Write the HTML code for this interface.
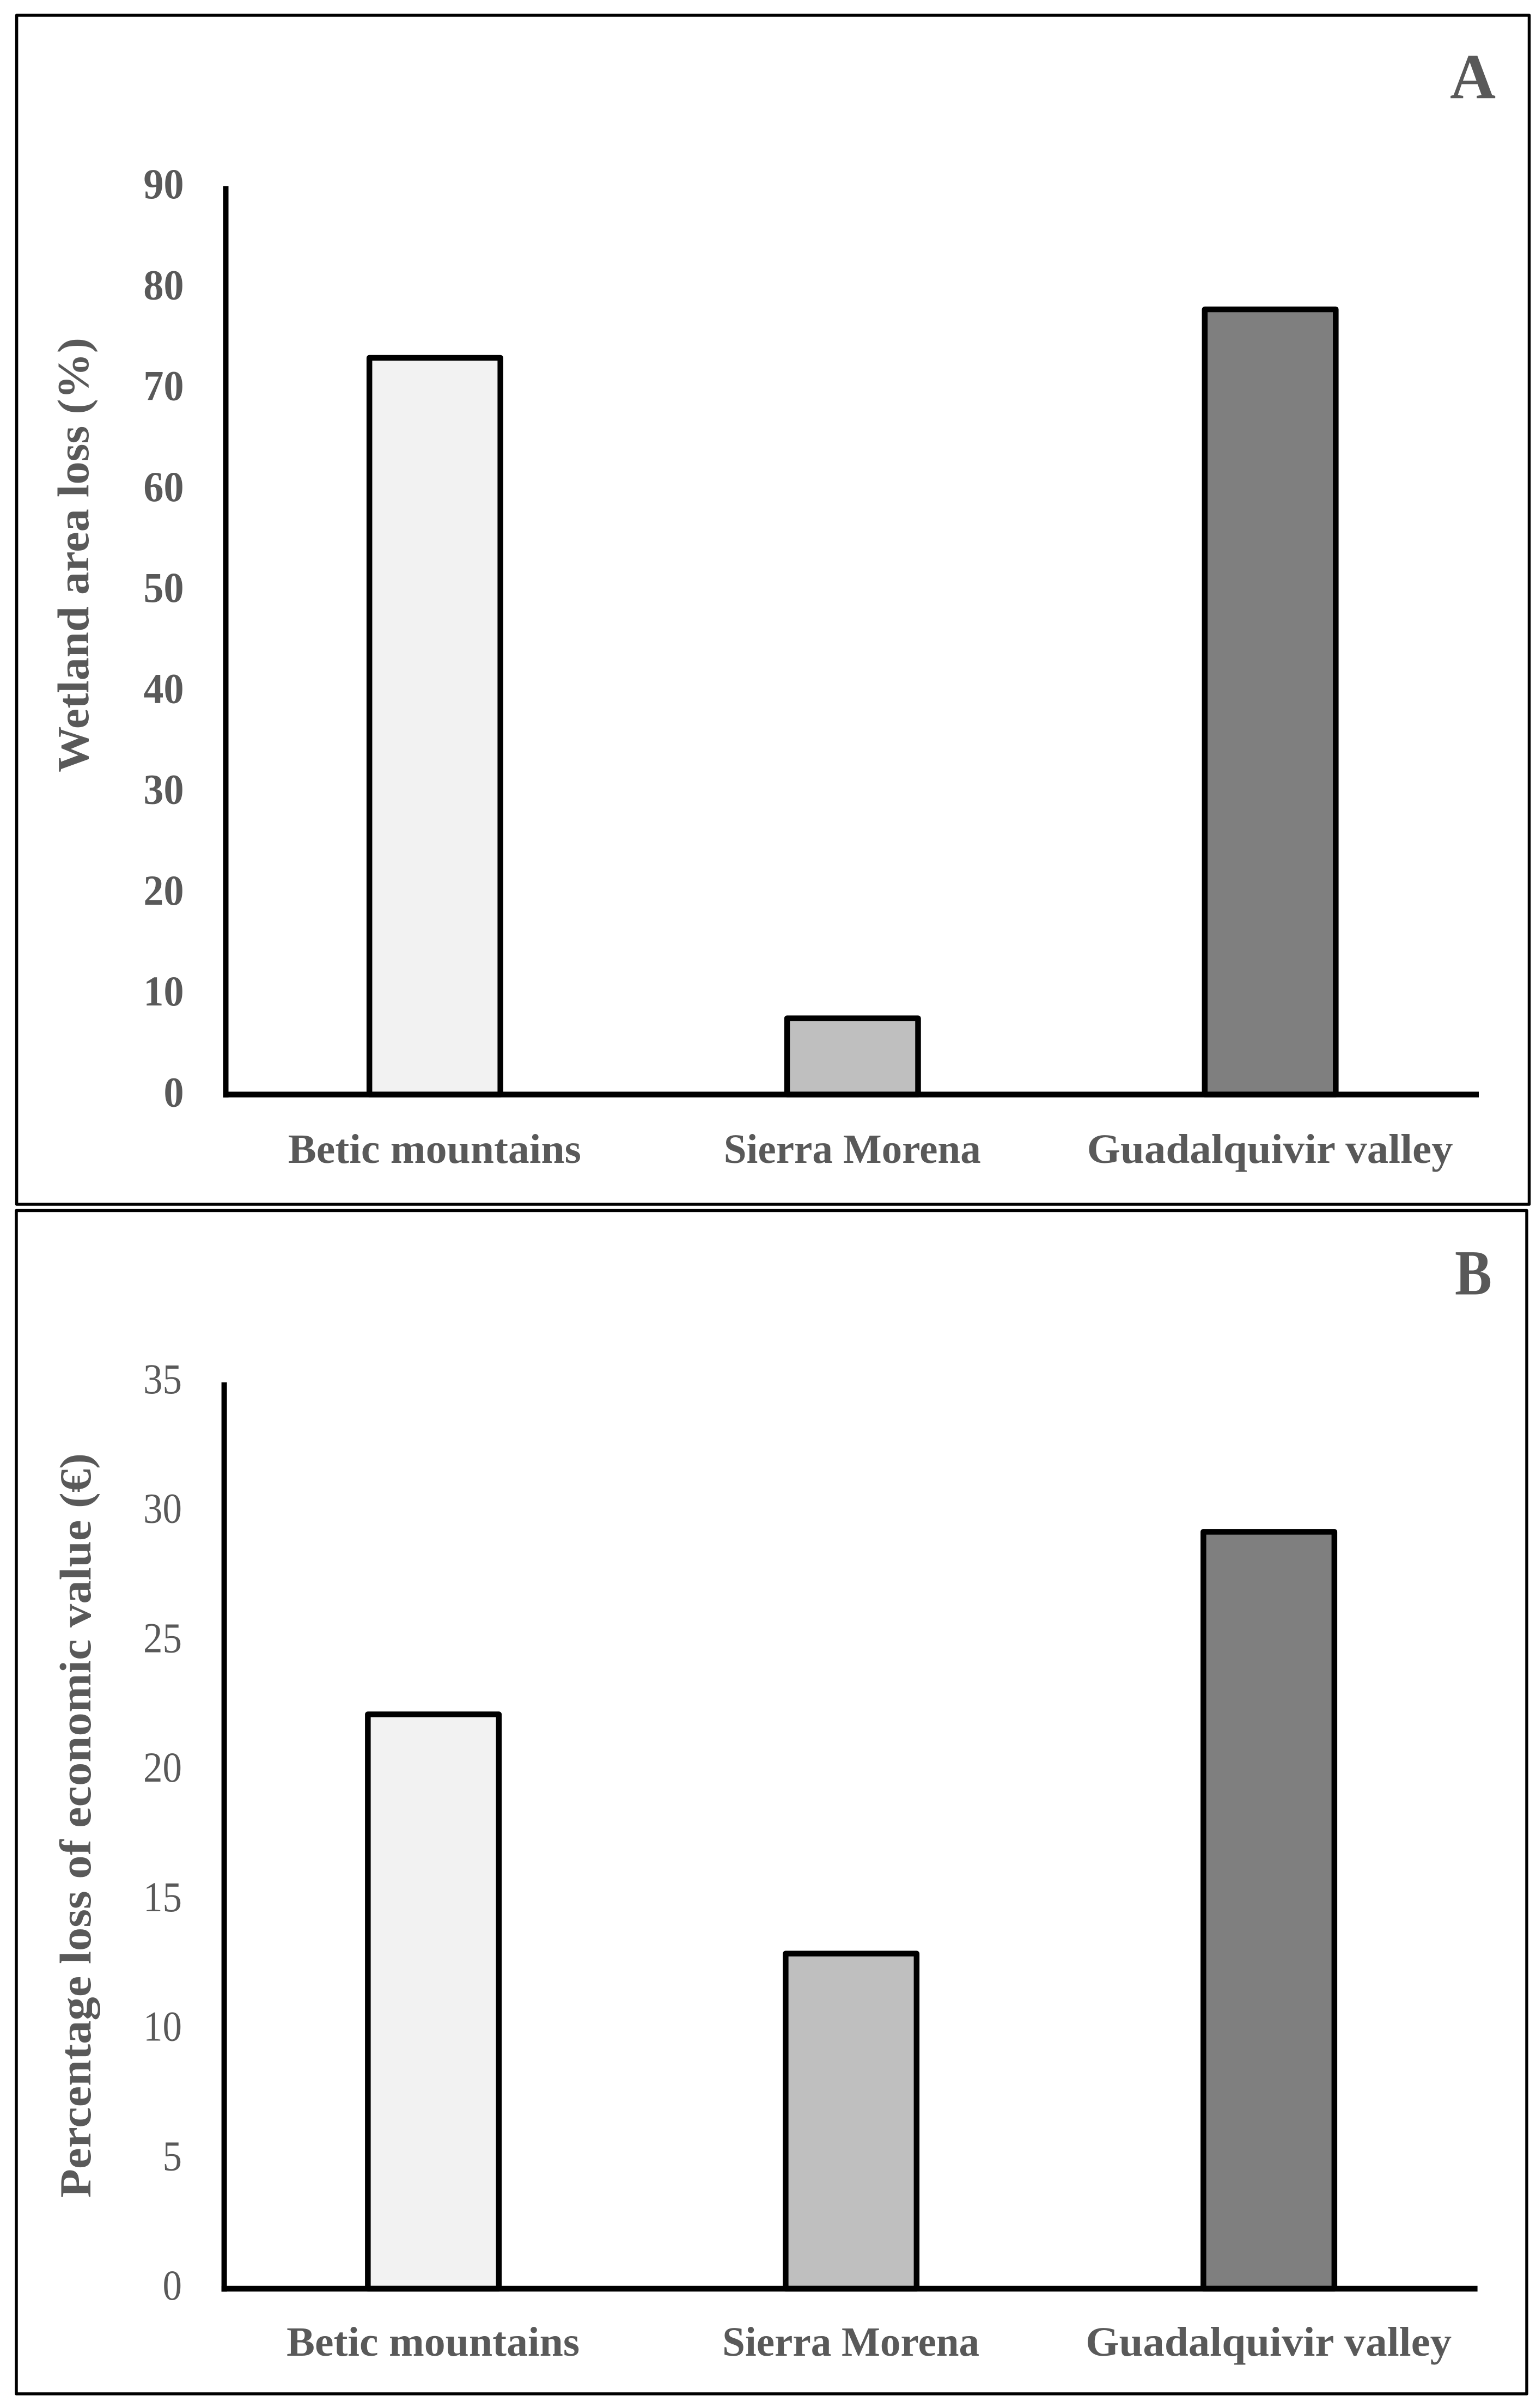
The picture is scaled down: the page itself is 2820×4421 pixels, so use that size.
<!DOCTYPE html>
<html lang="en">
<head>
<meta charset="utf-8">
<title>Wetland area loss and economic value loss by region</title>
<style>
html,body{margin:0;padding:0;background:#fff;}
svg{display:block;}
text{font-family:"Liberation Serif",serif;fill:#595959;}
</style>
</head>
<body>
<svg id="figure" xmlns="http://www.w3.org/2000/svg" width="2820" height="4421" viewBox="0 0 2820 4421"></svg>
<script>
// Shared categories
const categories = ['Betic mountains', 'Sierra Morena', 'Guadalquivir valley'];
// Panel A data
const wetlandLoss = [73.0, 7.55, 77.8];
const wetlandTicks = [0, 10, 20, 30, 40, 50, 60, 70, 80, 90];
// Panel B data
const economicLoss = [22.18, 12.94, 29.23];
const economicTicks = [0, 5, 10, 15, 20, 25, 30, 35];

const NS = 'http://www.w3.org/2000/svg';
const svg = document.getElementById('figure');
const barFills = ['#f2f2f2', '#bfbfbf', '#7f7f7f'];
const labelWidths = [538, 472, 672];

function makeRect(parent, name, x, y, w, h, fill, stroke, sw) {
  const el = document.createElementNS(NS, 'rect');
  
  
  el.setAttribute('x', x);
  el.setAttribute('y', y);
  el.setAttribute('width', w);
  el.setAttribute('height', h);
  el.setAttribute('fill', fill);
  if (stroke) {
    el.setAttribute('stroke', stroke);
    el.setAttribute('stroke-width', sw);
    el.setAttribute('stroke-linejoin', 'round');
  }
  parent.appendChild(el);
  return el;
}

function makeLine(parent, name, x1, y1, x2, y2, sw) {
  const el = document.createElementNS(NS, 'line');
  
  
  el.setAttribute('x1', x1);
  el.setAttribute('y1', y1);
  el.setAttribute('x2', x2);
  el.setAttribute('y2', y2);
  el.setAttribute('stroke', '#000');
  el.setAttribute('stroke-width', sw);
  parent.appendChild(el);
  return el;
}

function makeText(parent, name, content, size, weight, anchor, transform, length) {
  const el = document.createElementNS(NS, 'text');
  
  
  el.setAttribute('font-size', size);
  el.setAttribute('font-weight', weight);
  el.setAttribute('text-anchor', anchor);
  el.setAttribute('transform', transform);
  if (length) {
    el.setAttribute('textLength', length);
    el.setAttribute('lengthAdjust', 'spacingAndGlyphs');
  }
  el.textContent = content;
  parent.appendChild(el);
  return el;
}

function drawPanel(cfg) {
  const g = document.createElementNS(NS, 'g');
  
  
  svg.appendChild(g);

  makeRect(g, cfg.name + '-border', cfg.box[0], cfg.box[1], cfg.box[2] - cfg.box[0], cfg.box[3] - cfg.box[1], 'none', '#000', 5.5);

  const maxTick = cfg.ticks[cfg.ticks.length - 1];
  const yScale = v => cfg.y0 - (v / maxTick) * (cfg.y0 - cfg.yTop);
  const band = (cfg.xEnd - cfg.xAxis) / cfg.categories.length;
  const xCenter = i => cfg.xAxis + band * (i + 0.5);

  // Tick labels
  cfg.ticks.forEach(t => {
    makeText(g, 'y-tick-label-' + t, String(t), 78, cfg.tickWeight, 'end',
      'translate(' + cfg.tickRight + ',' + (yScale(t) + cfg.tickOffset) + ') scale(' + cfg.tickScale + ',1)');
  });

  // Bars
  cfg.values.forEach((v, i) => {
    const top = yScale(v);
    makeRect(g, 'bar-' + cfg.categories[i].toLowerCase().replace(/ /g, '-'),
      xCenter(i) - 120.25 + cfg.barShift, top, 240.5, cfg.y0 - top, barFills[i], '#000', 10.5);
  });

  // Axes
  makeLine(g, 'y-axis', cfg.xAxis, cfg.yTop, cfg.xAxis, cfg.y0 + 5.5, 10);
  makeLine(g, 'x-axis', cfg.xAxis - 5, cfg.y0, cfg.xEnd, cfg.y0, 10.5);

  // Category labels
  cfg.categories.forEach((c, i) => {
    makeText(g, 'x-label-' + c.toLowerCase().replace(/ /g, '-'), c, 76, 'bold', 'middle',
      'translate(' + xCenter(i) + ',' + cfg.labelY + ')', labelWidths[i]);
  });

  // Axis title
  makeText(g, 'y-axis-title', cfg.title, 82, 'bold', 'middle',
    'translate(' + cfg.titleX + ',' + cfg.titleY + ') rotate(-90)', cfg.titleLen);

  // Panel letter
  makeText(g, 'panel-letter', cfg.letter, 118, 'bold', 'middle',
    'translate(' + cfg.letterX + ',' + cfg.letterY + ')', cfg.letterLen);
}

drawPanel({
  name: 'panel-a', letter: 'A', letterX: 2704, letterY: 180, letterLen: 84,
  box: [30.6, 28, 2807.5, 2211],
  categories: categories, values: wetlandLoss, ticks: wetlandTicks,
  tickWeight: 'bold', tickRight: 337.5, tickOffset: 22, tickScale: 0.95,
  xAxis: 414.5, xEnd: 2715, y0: 2009.5, yTop: 342, barShift: 0.5,
  labelY: 2135,
  title: 'Wetland area loss (%)', titleX: 162, titleY: 1019, titleLen: 798
});

drawPanel({
  name: 'panel-b', letter: 'B', letterX: 2705, letterY: 2376.5, letterLen: 68,
  box: [30, 2222.5, 2803, 4395],
  categories: categories, values: economicLoss, ticks: economicTicks,
  tickWeight: 'normal', tickRight: 334, tickOffset: 20, tickScale: 0.91,
  xAxis: 411.6, xEnd: 2712.6, y0: 4202, yTop: 2538, barShift: 0.5,
  labelY: 4325,
  title: 'Percentage loss of economic value (€)', titleX: 166, titleY: 3351.5, titleLen: 1367
});
</script>
</body>
</html>
